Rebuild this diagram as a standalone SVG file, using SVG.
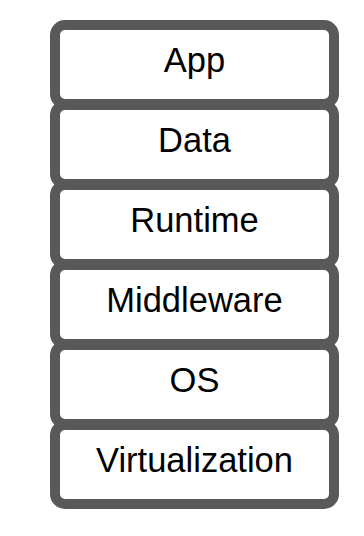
<svg xmlns="http://www.w3.org/2000/svg" width="364" height="536" viewBox="0 0 364 536">
<style>
.box{fill:#ffffff;stroke:#595959;stroke-width:10}
.lbl{font-family:"Liberation Sans",Arial,sans-serif;font-size:34.5px;fill:#000000;text-anchor:middle}
</style>
<rect width="364" height="536" fill="#ffffff"/>
<g id="app"><rect class="box" x="55" y="25" width="279" height="79" rx="10"/><text class="lbl" x="194.5" y="72.2">App</text></g>
<g id="data"><rect class="box" x="55" y="105" width="279" height="79" rx="10"/><text class="lbl" x="194.5" y="152.2">Data</text></g>
<g id="runtime"><rect class="box" x="55" y="185" width="279" height="79" rx="10"/><text class="lbl" x="194.5" y="232.2">Runtime</text></g>
<g id="middleware"><rect class="box" x="55" y="265" width="279" height="79" rx="10"/><text class="lbl" x="194.5" y="312.2">Middleware</text></g>
<g id="os"><rect class="box" x="55" y="345" width="279" height="79" rx="10"/><text class="lbl" x="194.5" y="392.2">OS</text></g>
<g id="virtualization"><rect class="box" x="55" y="425" width="279" height="79" rx="10"/><text class="lbl" x="194.5" y="472.2">Virtualization</text></g>
<g id="connectors"></g>
</svg>
